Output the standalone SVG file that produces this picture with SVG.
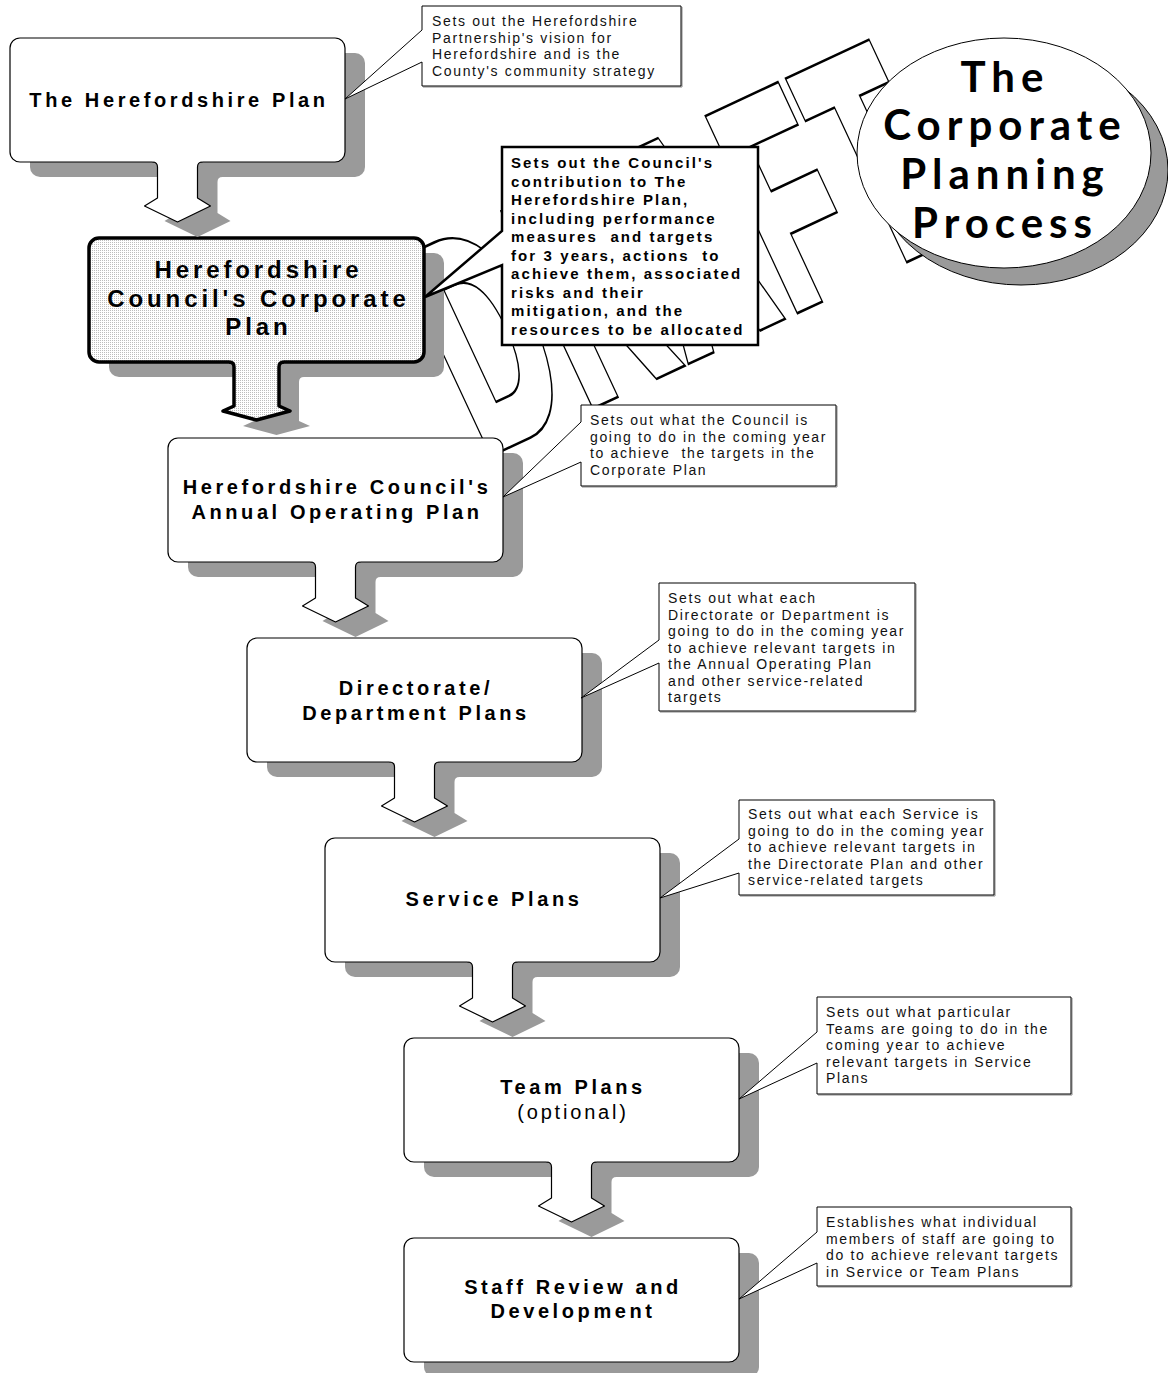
<svg xmlns="http://www.w3.org/2000/svg" xmlns:xlink="http://www.w3.org/1999/xlink" width="1168" height="1373" viewBox="0 0 1168 1373">
<style>
.box{fill:#fff;stroke:#000;stroke-width:1.2}
.shadow{fill:#9a9a9a;stroke:none}
.ntext{font-family:"Liberation Sans",Arial,sans-serif;font-weight:bold;font-size:20px;letter-spacing:3.6px;fill:#000;text-anchor:middle}
.ctext{font-family:"Liberation Sans",Arial,sans-serif;font-size:14px;letter-spacing:1.65px;fill:#111}
.btext{font-family:"Liberation Sans",Arial,sans-serif;font-weight:bold;font-size:15px;letter-spacing:2.1px;fill:#000}
.call{fill:#fff;stroke:#000;stroke-width:1;stroke-linejoin:miter}
.cshadow{fill:none;stroke:#888;stroke-width:1}
.title{font-family:Lato,"DejaVu Sans",sans-serif;font-weight:bold;font-size:42px;letter-spacing:6px;fill:#000;text-anchor:middle}
.wm{font-family:"Liberation Sans",Arial,sans-serif;font-weight:bold;font-size:296px;letter-spacing:16.3px}
</style>
<defs>
<pattern id="dots" width="2" height="2" patternUnits="userSpaceOnUse">
<rect width="2" height="2" fill="#fff"/>
<rect width="1" height="1" fill="#bdbdbd"/>
</pattern>
<path id="arrowFill" d="M-25,-2 H25 V0 Q20,0 20,5 V36 L33,44 L0,60 L-33,44 L-20,36 V5 Q-20,0 -25,0 Z"/>
<path id="arrowLine" d="M25,0 Q20,0 20,5 V36 L33,44 L0,60 L-33,44 L-20,36 V5 Q-20,0 -25,0"/>
<g id="arrow">
<use xlink:href="#arrowFill" fill="#fff"/>
<use xlink:href="#arrowLine" fill="none" stroke="#000" stroke-width="1.2" stroke-linejoin="round"/>
</g>
<text id="draftText" class="wm" transform="translate(482.1,452.5) rotate(-25) scale(0.49,1)" vector-effect="non-scaling-stroke">DRAFT</text>
</defs>
<rect width="1168" height="1373" fill="#fff"/>

<g id="watermark">
<use xlink:href="#draftText" fill="#000" stroke="#000" stroke-width="13" stroke-linejoin="miter"/>
<use xlink:href="#draftText" fill="#fff" stroke="#fff" stroke-width="9" stroke-linejoin="miter"/>
</g>

<g id="title">
<ellipse cx="1021" cy="170" rx="147" ry="115" fill="#9a9a9a" stroke="#000" stroke-width="1"/>
<ellipse cx="1004" cy="153" rx="147" ry="115" fill="#fff" stroke="#000" stroke-width="1"/>
<text class="title" x="1005" y="92">The</text>
<text class="title" x="1005" y="140">Corporate</text>
<text class="title" x="1005" y="189">Planning</text>
<text class="title" x="1005" y="238">Process</text>
</g>

<g id="node-herefordshire-plan">
<rect class="shadow" x="30" y="53" width="335" height="124" rx="10"/>
<rect class="box" x="10" y="38" width="335" height="124" rx="10"/>
<text class="ntext" x="179" y="107">The Herefordshire Plan</text>
</g>

<g id="node-corporate-plan">
<rect class="shadow" x="109" y="253" width="335" height="124" rx="10"/>
<rect x="89" y="238" width="335" height="124" rx="10" fill="url(#dots)" stroke="#000" stroke-width="3.5"/>
<text class="ntext" style="font-size:24px;letter-spacing:3.9px" x="258.5" y="278">Herefordshire</text>
<text class="ntext" style="font-size:24px;letter-spacing:3.9px" x="258.5" y="307">Council's Corporate</text>
<text class="ntext" style="font-size:24px;letter-spacing:3.9px" x="258.5" y="335">Plan</text>
</g>

<g id="node-annual-operating-plan">
<rect class="shadow" x="188" y="453" width="335" height="124" rx="10"/>
<rect class="box" x="168" y="438" width="335" height="124" rx="10"/>
<text class="ntext" x="337" y="494">Herefordshire Council's</text>
<text class="ntext" x="337" y="519">Annual Operating Plan</text>
</g>

<g id="node-directorate-plans">
<rect class="shadow" x="267" y="653" width="335" height="124" rx="10"/>
<rect class="box" x="247" y="638" width="335" height="124" rx="10"/>
<text class="ntext" x="416" y="695">Directorate/</text>
<text class="ntext" x="416" y="720">Department Plans</text>
</g>

<g id="node-service-plans">
<rect class="shadow" x="345" y="853" width="335" height="124" rx="10"/>
<rect class="box" x="325" y="838" width="335" height="124" rx="10"/>
<text class="ntext" x="494" y="906">Service Plans</text>
</g>

<g id="node-team-plans">
<rect class="shadow" x="424" y="1053" width="335" height="124" rx="10"/>
<rect class="box" x="404" y="1038" width="335" height="124" rx="10"/>
<text class="ntext" x="573" y="1094">Team Plans</text>
<text class="ntext" style="font-weight:normal;letter-spacing:2.8px" x="573" y="1119">(optional)</text>
</g>

<g id="node-staff-review">
<rect class="shadow" x="424" y="1253" width="335" height="124" rx="10"/>
<rect class="box" x="404" y="1238" width="335" height="124" rx="10"/>
<text class="ntext" x="573" y="1294">Staff Review and</text>
<text class="ntext" x="573" y="1318">Development</text>
</g>

<g id="connectors">
<use xlink:href="#arrowFill" class="shadow" x="197.5" y="177"/>
<use xlink:href="#arrow" x="177.5" y="162"/>
<path class="shadow" d="M249,373.5 H304 V377 Q299,377 299,382 V421 L310,426 L276.5,435 L243,426 L254,421 V382 Q254,377 249,377 Z"/>
<path d="M229,359.5 H284 V362 Q279,362 279,367 V406 L290,411 L256.5,420 L223,411 L234,406 V367 Q234,362 229,362 Z" fill="url(#dots)"/>
<path d="M284,362 Q279,362 279,367 V406 L290,411 L256.5,420 L223,411 L234,406 V367 Q234,362 229,362" fill="none" stroke="#000" stroke-width="3.5" stroke-linejoin="round"/>
<use xlink:href="#arrowFill" class="shadow" x="355.5" y="577"/>
<use xlink:href="#arrow" x="335.5" y="562"/>
<use xlink:href="#arrowFill" class="shadow" x="434.5" y="777"/>
<use xlink:href="#arrow" x="414.5" y="762"/>
<use xlink:href="#arrowFill" class="shadow" x="512.5" y="977"/>
<use xlink:href="#arrow" x="492.5" y="962"/>
<use xlink:href="#arrowFill" class="shadow" x="591.5" y="1177"/>
<use xlink:href="#arrow" x="571.5" y="1162"/>
</g>

<g id="note-1">
<path class="cshadow" d="M423,87 H682 V7"/>
<path class="call" d="M422,6 H681 V86 H422 V62 L345,99 L422,30 Z"/>
<text class="ctext" x="432" y="26">Sets out the Herefordshire</text>
<text class="ctext" x="432" y="42.5">Partnership's vision for</text>
<text class="ctext" x="432" y="59">Herefordshire and is the</text>
<text class="ctext" x="432" y="75.5">County's community strategy</text>
</g>

<g id="note-2">
<path class="call" style="stroke-width:2.5" d="M502,147 H758 V345 H502 V265 L425,297 L502,231 Z"/>
<text class="btext" x="511" y="168">Sets out the Council's</text>
<text class="btext" x="511" y="186.5">contribution to The</text>
<text class="btext" x="511" y="205">Herefordshire Plan,</text>
<text class="btext" x="511" y="223.5">including performance</text>
<text class="btext" x="511" y="242" xml:space="preserve">measures  and targets</text>
<text class="btext" x="511" y="260.5" xml:space="preserve">for 3 years, actions  to</text>
<text class="btext" x="511" y="279">achieve them, associated</text>
<text class="btext" x="511" y="297.5">risks and their</text>
<text class="btext" x="511" y="316">mitigation, and the</text>
<text class="btext" x="511" y="334.5">resources to be allocated</text>
</g>

<g id="note-3">
<path class="cshadow" d="M582,487 H837 V406"/>
<path class="call" d="M581,405 H836 V486 H581 V462 L503,497 L581,422 Z"/>
<text class="ctext" x="590" y="425">Sets out what the Council is</text>
<text class="ctext" x="590" y="441.5">going to do in the coming year</text>
<text class="ctext" x="590" y="458" xml:space="preserve">to achieve  the targets in the</text>
<text class="ctext" x="590" y="474.5">Corporate Plan</text>
</g>

<g id="note-4">
<path class="cshadow" d="M660,712 H916 V584"/>
<path class="call" d="M659,583 H915 V711 H659 V663 L581,698 L659,640 Z"/>
<text class="ctext" x="668" y="603">Sets out what each</text>
<text class="ctext" x="668" y="619.5">Directorate or Department is</text>
<text class="ctext" x="668" y="636">going to do in the coming year</text>
<text class="ctext" x="668" y="652.5">to achieve relevant targets in</text>
<text class="ctext" x="668" y="669">the Annual Operating Plan</text>
<text class="ctext" x="668" y="685.5">and other service-related</text>
<text class="ctext" x="668" y="702">targets</text>
</g>

<g id="note-5">
<path class="cshadow" d="M740,896 H995 V801"/>
<path class="call" d="M739,800 H994 V895 H739 V873 L660,898 L739,839 Z"/>
<text class="ctext" x="748" y="819">Sets out what each Service is</text>
<text class="ctext" x="748" y="835.5">going to do in the coming year</text>
<text class="ctext" x="748" y="852">to achieve relevant targets in</text>
<text class="ctext" x="748" y="868.5">the Directorate Plan and other</text>
<text class="ctext" x="748" y="885">service-related targets</text>
</g>

<g id="note-6">
<path class="cshadow" d="M818,1095 H1072 V998"/>
<path class="call" d="M817,997 H1071 V1094 H817 V1063 L739,1099 L817,1032 Z"/>
<text class="ctext" x="826" y="1017">Sets out what particular</text>
<text class="ctext" x="826" y="1033.5">Teams are going to do in the</text>
<text class="ctext" x="826" y="1050">coming year to achieve</text>
<text class="ctext" x="826" y="1066.5">relevant targets in Service</text>
<text class="ctext" x="826" y="1083">Plans</text>
</g>

<g id="note-7">
<path class="cshadow" d="M818,1287 H1072 V1208"/>
<path class="call" d="M817,1207 H1071 V1286 H817 V1263 L739,1299 L817,1232 Z"/>
<text class="ctext" x="826" y="1227">Establishes what individual</text>
<text class="ctext" x="826" y="1243.5">members of staff are going to</text>
<text class="ctext" x="826" y="1260">do to achieve relevant targets</text>
<text class="ctext" x="826" y="1276.5">in Service or Team Plans</text>
</g>
</svg>
